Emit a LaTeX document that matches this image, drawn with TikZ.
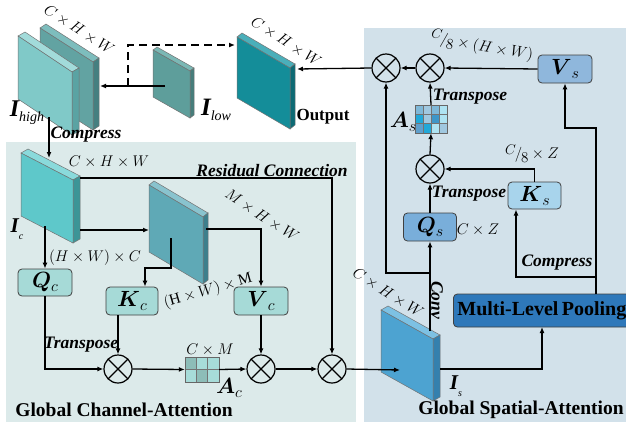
\RequirePackage{fix-cm}
\documentclass[tikz,border=0pt]{standalone}
\usepackage{fontspec}
\setmainfont{Liberation Serif}
\usepackage{bm}
\usetikzlibrary{arrows.meta,calc}

\definecolor{panL}{HTML}{DCEAEA}
\definecolor{panR}{HTML}{D2E1EA}
% slab colours: F front, S side, T top
\definecolor{ibF}{HTML}{62A3A2}\definecolor{ibS}{HTML}{457F80}\definecolor{ibT}{HTML}{7DBDBD}
\definecolor{ihF}{HTML}{80C9C8}\definecolor{ihS}{HTML}{5AA3A3}\definecolor{ihT}{HTML}{A2DBDA}
\definecolor{ilF}{HTML}{5E9E9B}\definecolor{ilS}{HTML}{467D7B}\definecolor{ilT}{HTML}{7BB8B5}
\definecolor{otF}{HTML}{148D99}\definecolor{otS}{HTML}{0D6A74}\definecolor{otT}{HTML}{4AAFBA}
\definecolor{icF}{HTML}{5EC8CA}\definecolor{icS}{HTML}{3C9597}\definecolor{icT}{HTML}{8ADADB}
\definecolor{mdF}{HTML}{5FA9B6}\definecolor{mdS}{HTML}{3D7F8C}\definecolor{mdT}{HTML}{89C3CE}
\definecolor{isF}{HTML}{4DA3D1}\definecolor{isS}{HTML}{3480AE}\definecolor{isT}{HTML}{7DC1E3}
\definecolor{boxC}{HTML}{A6DAD7}
\definecolor{boxQs}{HTML}{79AEDA}
\definecolor{boxKs}{HTML}{A8D4EC}
\definecolor{boxVs}{HTML}{8FB7DC}
\definecolor{boxMLP}{HTML}{2E78BA}
\definecolor{acA}{HTML}{8DBDB8}\definecolor{acB}{HTML}{A7DCD9}
\definecolor{asA}{HTML}{7FB8D8}\definecolor{asB}{HTML}{A0C8E0}\definecolor{asC}{HTML}{AEE3F2}
\definecolor{asD}{HTML}{22A8D8}\definecolor{asE}{HTML}{3E96C8}\definecolor{asF}{HTML}{5E9FCC}

% #1 x0, #2 y0, #3 w, #4 h, #5 slant, #6 depth dx, #7 depth dy, #8 colour prefix
\newcommand{\slabshape}[8]{%
  \filldraw[fill=#8T,draw=black!55,line width=0.5pt] (#1,#2) -- ++(#6,-#7) -- ++(#3,#5) -- ++(-#6,#7) -- cycle;
  \filldraw[fill=#8S,draw=black!55,line width=0.5pt] (#1+#3,#2+#5) -- ++(#6,-#7) -- ++(0,#4) -- ++(-#6,#7) -- cycle;
  \filldraw[fill=#8F,draw=black!55,line width=0.5pt] (#1,#2) -- ++(#3,#5) -- ++(0,#4) -- ++(-#3,-#5) -- cycle;
}
\newcommand{\bsym}[2]{{\fontsize{22}{22}\selectfont$\bm{#1}$}\raisebox{-4pt}{\fontsize{16}{16}\selectfont$#2$}}
\newcommand{\mlab}{\fontsize{15.5}{15.5}\selectfont}
\newcommand{\blab}{\fontsize{17.5}{17.5}\selectfont\bfseries\itshape}
\newcommand{\cover}{\raisebox{4pt}{\fontsize{14}{14}\selectfont$C$}\kern-1pt{\fontsize{15}{15}\selectfont$/$}\kern-1pt\raisebox{-4pt}{\fontsize{15}{15}\selectfont$8$}}

\begin{document}
\begin{tikzpicture}[x=1pt,y=-1pt,
  arr/.style={-{Latex[length=6pt,width=5pt]},line width=1.3pt},
  box/.style={draw=black!75,line width=0.8pt,rounded corners=4pt,inner sep=0pt},
  otimes/.style={circle,draw,line width=1.2pt,minimum size=28pt,inner sep=0pt,
    path picture={\draw[line width=1.2pt] (path picture bounding box.north west) -- (path picture bounding box.south east)
      (path picture bounding box.north east) -- (path picture bounding box.south west);}},
  cell/.style={draw=black!55,line width=0.4pt}]
\useasboundingbox (0,0) rectangle (626,426);

% panels
\fill[panL] (6,142) rectangle (356,422);
\fill[panR] (364,28) rectangle (626,422);

% slabs
\slabshape{40}{28}{53}{68}{34}{6}{4}{ib}
\slabshape{18}{36}{54}{63}{36}{7}{4}{ih}
\slabshape{153}{50}{37}{47}{21}{4}{3}{il}
\slabshape{237}{37}{53}{61}{31}{5}{4}{ot}
\slabshape{21}{153}{52}{63}{27}{7}{4}{ic}
\slabshape{149}{185}{54}{67}{32}{5}{4}{md}
\slabshape{381}{310}{52}{62}{29}{7}{4}{is}

% attachment coordinates
\coordinate (ilowc) at (165,86);
\coordinate (ibside) at (100,86);
\coordinate (dstart) at (128,86);
\coordinate (outL) at (235,45);
\coordinate (outR) at (297,69);
\coordinate (ihB) at (49,117);
\coordinate (icT) at (49,158);
\coordinate (icR) at (80,178);
\coordinate (icR2) at (80,230);
\coordinate (icB) at (45,226);
\coordinate (midL) at (149,230);
\coordinate (midR) at (206,229);
\coordinate (midC) at (171,238);
\coordinate (kcin) at (145,268);
\coordinate (isin) at (400,370);
\coordinate (isR) at (440,369);
\coordinate (mlpin) at (542,327);
\coordinate (isT) at (430,331);
\coordinate (jn) at (430,273);
\coordinate (mlpout) at (596,294);
\coordinate (vsin) at (565,128);
\coordinate (kb) at (596,277);
\coordinate (ksin) at (516,209.5);

% boxes
\node[box,fill=boxC,minimum width=54pt,minimum height=27pt] (qc) at (45,282.5) {\bsym{Q}{c}};
\node[box,fill=boxC,minimum width=52pt,minimum height=28pt] (kc) at (132,301) {\bsym{K}{c}};
\node[box,fill=boxC,minimum width=54pt,minimum height=28pt] (vc) at (261,301) {\bsym{V}{c}};
\node[box,fill=boxQs,minimum width=53pt,minimum height=28pt] (qs) at (430,227) {\bsym{Q}{s}};
\node[box,fill=boxKs,minimum width=53pt,minimum height=27pt] (ks) at (534.5,195.5) {\bsym{K}{s}};
\node[box,fill=boxVs,minimum width=54pt,minimum height=28pt] (vs) at (565,69) {\bsym{V}{s}};
\node[box,fill=boxMLP,minimum width=190pt,minimum height=33pt,anchor=west,text width=185pt,align=left,inner xsep=4pt]
  (mlp) at (453,310.5) {\fontsize{20}{20}\selectfont\bfseries Multi-Level Pooling};

% otimes
\node[otimes] (o1) at (118,369) {};
\node[otimes] (o2) at (261,369) {};
\node[otimes] (o3) at (332,369) {};
\node[otimes] (oA) at (386,68) {};
\node[otimes] (oB) at (430,68) {};
\node[otimes] (oC) at (430,169) {};

% A_c grid
\node[minimum width=34pt,minimum height=25pt,inner sep=0pt] (ac) at (202,369.5) {};
\foreach \i/\cc in {0/acA,1/acB,2/acB}{\filldraw[cell,fill=\cc] ($(ac.north west)+(\i*34/3,0)$) rectangle ++(34/3,12.5);}
\foreach \i/\cc in {0/acB,1/acA,2/acB}{\filldraw[cell,fill=\cc] ($(ac.north west)+(\i*34/3,12.5)$) rectangle ++(34/3,12.5);}
\draw[line width=0.6pt,black!60] (ac.north west) rectangle (ac.south east);

% A_s grid
\node[minimum width=32pt,minimum height=28pt,inner sep=0pt] (as) at (431,119) {};
\foreach \i/\cc in {0/asA,1/asB,2/asA,3/asC}{\filldraw[cell,fill=\cc] ($(as.north west)+(\i*8,0)$) rectangle ++(8,28/3);}
\foreach \i/\cc in {0/asD,1/asB,2/asE,3/asC}{\filldraw[cell,fill=\cc] ($(as.north west)+(\i*8,28/3)$) rectangle ++(8,28/3);}
\foreach \i/\cc in {0/asF,1/asD,2/asC,3/asB}{\filldraw[cell,fill=\cc] ($(as.north west)+(\i*8,56/3)$) rectangle ++(8,28/3);}
\draw[line width=0.6pt,black!60] (as.north west) rectangle (as.south east);

% connectors
\draw[arr] (ilowc) -- (ibside);
\draw[arr,dash pattern=on 8pt off 5pt] (dstart) |- (outL);
\draw[arr] (oA.west) -- (outR);
\draw[arr] (ihB) -- (icT);
\draw[arr] (icR) -| (o3.north);
\draw[arr] (icR2) -- (midL);
\draw[arr] (midR) -| (vc.north);
\draw[arr] (midC) |- (kcin) -- (kcin |- kc.north);
\draw[arr] (icB) -- (qc.north);
\draw[arr] (qc.south) |- (o1.west);
\draw[arr] (kc.south -| o1.north) -- (o1.north);
\draw[arr] (o1.east) -- (ac.west);
\draw[arr] (ac.east) -- (o2.west);
\draw[arr] (vc.south) -- (o2.north);
\draw[arr] (o2.east) -- (o3.west);
\draw[arr] (o3.east) -- (isin);
\draw[arr] (isR) -| (mlpin);
\draw[arr] (isT) -- (qs.south);
\draw[arr] (jn) -| (oA.south);
\draw[arr] (qs.north) -- (oC.south);
\draw[arr] (ks.north) |- (oC.east);
\draw[arr] (oC.north) -- (as.south);
\draw[arr] (as.north) -- (oB.south);
\draw[arr] (oB.west) -- (oA.east);
\draw[arr] (vs.west) -- (oB.east);
\draw[arr] (mlpout) |- (vsin) -- (vs.south);
\draw[arr] (kb) -| (ksin);

% labels
\node[rotate=-33] (l1) at (79,30) {\mlab$C\times H\times W$};
\node[rotate=-33] (l2) at (286,42) {\mlab$C\times H\times W$};
\node (l3) at (109,162) {\mlab$C\times H\times W$};
\node[rotate=-33] (l4) at (262,216) {\mlab$M\times H\times W$};
\node[rotate=-32] (l5) at (388,293) {\mlab$C\times H\times W$};
\node (l6) at (95,258) {\mlab$(H\times W)\times C$};
\node[rotate=16] (l7) at (208,291) {\mlab$(\mathrm{H}\times W)\times \mathrm{M}$};
\node (l8) at (210,350) {\mlab$C\times M$};
\node[rotate=-10] (l9) at (482,46) {\cover\mlab${}\times(H\times W)$};
\node (l10) at (532,154) {\cover\mlab${}\times Z$};
\node (l11) at (478,230) {\mlab$C\times Z$};

\node (t1) at (86,135) {\blab Compress};
\node (t2) at (272,171) {\blab Residual Connection};
\node (t3) at (81,345) {\blab Transpose};
\node (t4) at (470,97) {\blab Transpose};
\node (t5) at (469,194) {\blab Transpose};
\node (t6) at (557,263) {\blab Compress};
\node[rotate=-90] (t7) at (437,300) {\blab Conv};
\node (t8) at (323,117) {\fontsize{17}{17}\selectfont\bfseries Output};
\node (t9) at (124,410) {\fontsize{19.5}{19.5}\selectfont\bfseries Global Channel-Attention};
\node (t10) at (521,410) {\fontsize{19.5}{19.5}\selectfont\bfseries Global Spatial-Attention};

\node (n1) at (27,113) {{\fontsize{24}{24}\selectfont\bfseries\itshape I}\raisebox{-5pt}{\fontsize{14}{14}\selectfont\itshape high}};
\node (n2) at (216,110) {{\fontsize{25}{25}\selectfont\bfseries\itshape I}\raisebox{-5pt}{\fontsize{14}{14}\selectfont\itshape low}};
\node (n3) at (17,229) {{\fontsize{21}{21}\selectfont\bfseries\itshape I}\raisebox{-7pt}{\fontsize{10}{10}\selectfont\itshape c}};
\node (n4) at (456,386) {{\fontsize{21}{21}\selectfont\bfseries\itshape I}\raisebox{-7pt}{\fontsize{10}{10}\selectfont\itshape s}};
\node (n5) at (229,388) {\bsym{A}{c}};
\node (n6) at (403,122) {\bsym{A}{s}};
\end{tikzpicture}
\end{document}
